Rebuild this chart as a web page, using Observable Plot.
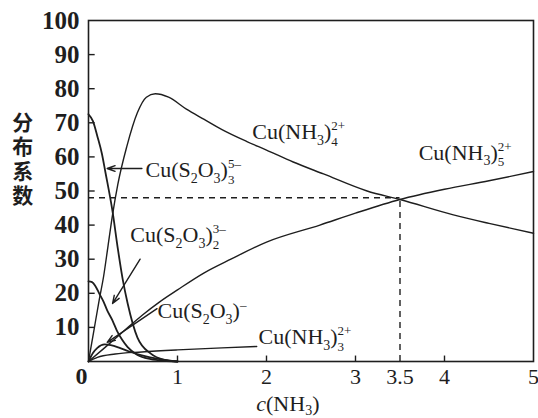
<!DOCTYPE html>
<html>
<head>
<meta charset="utf-8">
<script src="https://cdn.jsdelivr.net/npm/d3@7"></script>
<script src="https://cdn.jsdelivr.net/npm/@observablehq/plot@0.6"></script>
<style>
  body { margin: 0; background: #fff; }
  svg { font-family: "Liberation Serif", "DejaVu Serif", serif; }
</style>
</head>
<body>
<div id="chart"></div>
<script>
// ---- data ----
// Cu(S2O3)3^5-
const s3X = [0, 0.05, 0.1, 0.15, 0.19, 0.27, 0.33, 0.385, 0.44, 0.55, 0.7, 0.85, 1.0];
const s3Y = [72.5, 70.5, 66, 61, 55.5, 44, 33, 24, 17, 7, 2.3, 0.5, 0];
// Cu(S2O3)2^3-
const s2X = [0, 0.04, 0.08, 0.12, 0.17, 0.21, 0.27, 0.32, 0.38, 0.44, 0.55, 0.7, 0.85, 1.0];
const s2Y = [23.5, 23.3, 22, 20, 17.5, 15, 12, 9, 6.3, 4.2, 1.9, 0.7, 0.2, 0];
// Cu(S2O3)^-
const s1X = [0, 0.05, 0.1, 0.18, 0.25, 0.35, 0.45, 0.6, 0.8, 1.0];
const s1Y = [0, 2.5, 4, 5, 4.8, 4, 3, 1.8, 0.7, 0];
// Cu(NH3)4^2+
const n4X = [0, 0.06, 0.12, 0.17, 0.22, 0.27, 0.33, 0.43, 0.55, 0.65, 0.75, 0.9, 1.1, 1.3, 1.5, 1.78, 2.0, 2.3, 2.64, 3.13, 3.5, 4.1, 4.5, 5];
const n4Y = [0, 9, 18, 25, 34, 43, 52, 63, 73, 77.5, 78.5, 77.5, 74, 71, 68, 64.5, 62, 58.5, 55, 50, 47.5, 43, 40.5, 37.6];
// Cu(NH3)5^2+
const n5X = [0, 0.18, 0.4, 0.6, 0.8, 1.0, 1.3, 1.6, 2.0, 2.6, 3.0, 3.5, 4.0, 4.5, 5];
const n5Y = [0, 4, 9, 13.5, 17.5, 21, 26, 30, 35, 40, 43.5, 47.5, 50.5, 53, 55.7];
// Cu(NH3)3^2+
const n3X = [0, 0.1, 0.3, 0.6, 1.0, 1.5, 1.89];
const n3Y = [0, 1.2, 2.2, 2.8, 3.4, 4.0, 4.4];

// labels
const labelText = ["Cu(S_2O_3)_3^{5-}", "Cu(S_2O_3)_2^{3-}", "Cu(S_2O_3)^{-}", "Cu(NH_3)_4^{2+}", "Cu(NH_3)_5^{2+}", "Cu(NH_3)_3^{2+}"];
const labelX = [0.64, 0.47, 0.775, 1.84, 3.71, 1.91];
const labelY = [56.3, 37.2, 14.7, 67.2, 61.3, 7.3];

// pointer arrows
const arrowX1 = [0.6, 0.58, 0.77];
const arrowY1 = [56.6, 30, 15.5];
const arrowX2 = [0.21, 0.27, 0.21];
const arrowY2 = [56.6, 17, 5.6];

// axes
const yTicks = [10, 20, 30, 40, 50, 60, 70, 80, 90];
const yTickLabels = [10, 20, 30, 40, 50, 60, 70, 80, 90, 100];
const xTicks = [1, 2, 3, 4];
const xTickLabels = [1, 2, 3, 3.5, 4, 5];
const yTitle = "分布系数";
const xTitle = "c(NH_3)";
const refX = 3.5, refY = 48;

// ---- build ----
const series = [
  [s3X, s3Y], [s2X, s2Y], [s1X, s1Y], [n4X, n4Y], [n5X, n5Y], [n3X, n3Y]
].map(([xs, ys], k) => xs.map((x, i) => ({k, x, y: ys[i]})));
const labels = labelText.map((t, i) => ({t, x: labelX[i], y: labelY[i]}));
const arrows = arrowX1.map((x1, i) => ({x1, y1: arrowY1[i], x2: arrowX2[i], y2: arrowY2[i]}));
const ink = "#1e1e1e";
const serif = "Liberation Serif, DejaVu Serif, serif";

const plot = Plot.plot({
  width: 538,
  height: 418,
  marginLeft: 88,
  marginRight: 5,
  marginTop: 20,
  marginBottom: 57,
  x: {domain: [0, 5], axis: null},
  y: {domain: [0, 100], axis: null},
  style: {background: "#fff", fontFamily: serif},
  marks: [
    Plot.frame({stroke: ink, strokeWidth: 1.6}),
    Plot.ruleY(yTicks, {x1: 0, x2: 0.075, stroke: ink, strokeWidth: 1.4}),
    Plot.ruleX(xTicks, {y1: 0, y2: 1.6, stroke: ink, strokeWidth: 1.4}),
    Plot.text(yTickLabels, {x: 0, y: d => d, text: d => String(d), textAnchor: "end", dx: -9, fontSize: 25, fontWeight: "bold", fill: ink}),
    Plot.text([0], {x: 0, y: 0, text: d => String(d), textAnchor: "middle", dx: -7, dy: 15, fontSize: 24, fontWeight: "bold", fill: ink}),
    Plot.text(xTickLabels, {x: d => d, y: 0, text: d => String(d), textAnchor: "middle", dy: 15, fontSize: 22, fill: ink}),
    Plot.text([yTitle], {x: -0.74, y: 61, text: d => d, textAnchor: "middle", fontSize: 21, fontFamily: "Noto Sans CJK SC", fontWeight: "bold", fill: ink}),
    Plot.text([xTitle], {x: 2.24, y: -12.4, text: d => d, fontSize: 22, fill: ink}),
    Plot.ruleX([refX], {y1: 0, y2: refY, stroke: ink, strokeWidth: 1.4, strokeDasharray: "6,5"}),
    Plot.ruleY([refY], {x1: 0, x2: refX, stroke: ink, strokeWidth: 1.4, strokeDasharray: "6,5"}),
    ...series.map((s, k) => Plot.line(s, {x: "x", y: "y", curve: "monotone-x", stroke: ink, strokeWidth: k >= 3 ? 1.4 : 1.8})),
    Plot.arrow(arrows, {x1: "x1", y1: "y1", x2: "x2", y2: "y2", stroke: ink, strokeWidth: 1.4, headLength: 9, headAngle: 40}),
    Plot.text(labels, {x: "x", y: "y", text: "t", textAnchor: "start", fontSize: 22, fill: ink})
  ]
});
document.getElementById("chart").appendChild(plot);

// vertical y title
d3.select(plot).selectAll("text").filter(function() { return this.textContent === yTitle; })
  .attr("writing-mode", "vertical-rl")
  .attr("dy", null)
  .style("letter-spacing", "3.5px");

// chemistry formatting: _x subscripts, ^{..} superscripts (stacked after a subscript)
function formatChem(el) {
  const s = el.textContent;
  if (!/[_^]/.test(s)) return;
  const isTitle = s.startsWith("c(");
  const subDrop = isTitle ? 4 : 6;
  el.textContent = "";
  const NS = "http://www.w3.org/2000/svg";
  const re = /_(\w)(\^\{([^}]*)\})?|\^\{([^}]*)\}|([^_^]+)/g;
  let m, shifted = 0;
  const add = (txt, size, dy, dx, italic) => {
    const t = document.createElementNS(NS, "tspan");
    t.textContent = txt;
    if (size) t.setAttribute("font-size", size);
    if (dy) t.setAttribute("dy", dy);
    if (dx) t.setAttribute("dx", dx);
    if (italic) t.setAttribute("font-style", "italic");
    el.appendChild(t);
    return t;
  };
  let first = true;
  while ((m = re.exec(s))) {
    if (m[5] !== undefined) {
      let txt = m[5];
      if (first && isTitle) { add("c", null, 0, 0, true); txt = txt.slice(1); }
      add(txt, null, shifted ? -shifted : 0);
      shifted = 0;
    } else if (m[1] !== undefined && m[2] === undefined) {
      add(m[1], 14, subDrop - shifted);
      shifted = subDrop;
    } else if (m[1] !== undefined) {
      const sup = add(m[3].replace("-", "\u2012"), 13, -9 - shifted);
      const w = sup.getComputedTextLength();
      add(m[1], 13, 16, -w);
      shifted = 7;
    } else if (m[4] !== undefined) {
      add(m[4].replace("-", "\u2012"), 13, -9 - shifted);
      shifted = -9;
    }
    first = false;
  }
}
d3.select(plot).selectAll("text").each(function() { formatChem(this); });
</script>
</body>
</html>
